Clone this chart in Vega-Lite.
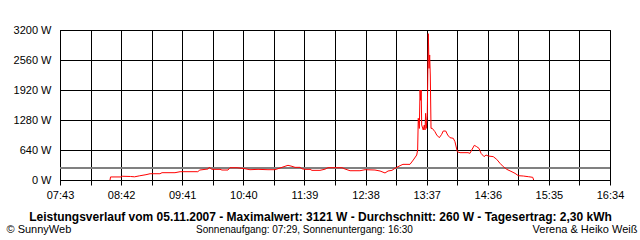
{
  "$schema": "https://vega.github.io/schema/vega-lite/v6.json",
  "width": 550,
  "height": 150,
  "autosize": {"type": "none"},
  "padding": {"left": 60, "top": 30, "right": 30, "bottom": 60},
  "background": "white",
  "view": {"stroke": "black"},
  "config": {
    "font": "Liberation Sans",
    "axis": {"labelFont": "Liberation Sans", "titleFont": "Liberation Sans", "labelColor": "black", "titleColor": "black"}
  },
  "data": {"values": [
    {"minute": 511.3, "watt": 0},
    {"minute": 511.8, "watt": 65},
    {"minute": 522, "watt": 65},
    {"minute": 523, "watt": 80},
    {"minute": 531, "watt": 75},
    {"minute": 535, "watt": 68},
    {"minute": 540, "watt": 90},
    {"minute": 546, "watt": 113},
    {"minute": 550, "watt": 134},
    {"minute": 559.5, "watt": 134},
    {"minute": 561.5, "watt": 156},
    {"minute": 574, "watt": 156},
    {"minute": 579, "watt": 177},
    {"minute": 596, "watt": 177},
    {"minute": 598, "watt": 213},
    {"minute": 606, "watt": 235},
    {"minute": 607, "watt": 270},
    {"minute": 608, "watt": 255},
    {"minute": 609.7, "watt": 228},
    {"minute": 617.5, "watt": 227},
    {"minute": 619.4, "watt": 213},
    {"minute": 625.2, "watt": 213},
    {"minute": 627.1, "watt": 262},
    {"minute": 633.9, "watt": 262},
    {"minute": 641.6, "watt": 240},
    {"minute": 646.4, "watt": 220},
    {"minute": 654.2, "watt": 227},
    {"minute": 663.8, "watt": 220},
    {"minute": 670.6, "watt": 220},
    {"minute": 675.4, "watt": 256},
    {"minute": 680.2, "watt": 292},
    {"minute": 683.1, "watt": 313},
    {"minute": 687, "watt": 292},
    {"minute": 689.9, "watt": 270},
    {"minute": 694.7, "watt": 270},
    {"minute": 696.6, "watt": 240},
    {"minute": 699.5, "watt": 227},
    {"minute": 704.4, "watt": 227},
    {"minute": 706.3, "watt": 206},
    {"minute": 714, "watt": 206},
    {"minute": 718.8, "watt": 230},
    {"minute": 721.7, "watt": 262},
    {"minute": 735.3, "watt": 262},
    {"minute": 738.2, "watt": 234},
    {"minute": 743, "watt": 198},
    {"minute": 752.6, "watt": 198},
    {"minute": 757.5, "watt": 220},
    {"minute": 767.1, "watt": 213},
    {"minute": 772, "watt": 192},
    {"minute": 776.8, "watt": 150},
    {"minute": 779.7, "watt": 192},
    {"minute": 783.5, "watt": 206},
    {"minute": 786.4, "watt": 249},
    {"minute": 791.3, "watt": 306},
    {"minute": 794.1, "watt": 334},
    {"minute": 800.9, "watt": 334},
    {"minute": 804.1, "watt": 427},
    {"minute": 807.4, "watt": 533},
    {"minute": 808.3, "watt": 640},
    {"minute": 808.9, "watt": 1316},
    {"minute": 809.9, "watt": 1100},
    {"minute": 810.6, "watt": 1920},
    {"minute": 811.2, "watt": 1700},
    {"minute": 811.7, "watt": 1920},
    {"minute": 812.2, "watt": 1173},
    {"minute": 813.7, "watt": 1067},
    {"minute": 814.7, "watt": 1173},
    {"minute": 815.4, "watt": 1067},
    {"minute": 816, "watt": 1422},
    {"minute": 816.6, "watt": 1102},
    {"minute": 817.6, "watt": 1387},
    {"minute": 818.6, "watt": 3121},
    {"minute": 819.3, "watt": 2382},
    {"minute": 819.9, "watt": 2667},
    {"minute": 820.5, "watt": 2240},
    {"minute": 821.2, "watt": 1102},
    {"minute": 822.4, "watt": 1102},
    {"minute": 825, "watt": 1031},
    {"minute": 826.7, "watt": 960},
    {"minute": 829.2, "watt": 903},
    {"minute": 831.5, "watt": 974},
    {"minute": 833, "watt": 1045},
    {"minute": 835.4, "watt": 1045},
    {"minute": 837.3, "watt": 960},
    {"minute": 839.5, "watt": 903},
    {"minute": 842.7, "watt": 889},
    {"minute": 844.3, "watt": 818},
    {"minute": 846.6, "watt": 604},
    {"minute": 849.2, "watt": 583},
    {"minute": 856.9, "watt": 583},
    {"minute": 858.8, "watt": 569},
    {"minute": 860.5, "watt": 640},
    {"minute": 863, "watt": 740},
    {"minute": 865.3, "watt": 711},
    {"minute": 867.5, "watt": 676},
    {"minute": 869.5, "watt": 569},
    {"minute": 872.4, "watt": 498},
    {"minute": 874.3, "watt": 533},
    {"minute": 876.5, "watt": 512},
    {"minute": 881.3, "watt": 498},
    {"minute": 884.6, "watt": 441},
    {"minute": 887.8, "watt": 356},
    {"minute": 891, "watt": 284},
    {"minute": 894.3, "watt": 228},
    {"minute": 898.4, "watt": 185},
    {"minute": 902.3, "watt": 142},
    {"minute": 905.5, "watt": 92},
    {"minute": 910.3, "watt": 85},
    {"minute": 915.1, "watt": 71},
    {"minute": 919.4, "watt": 57},
    {"minute": 920.3, "watt": 0}
  ]},
  "resolve": {"axis": {"x": "independent", "y": "independent"}},
  "layer": [
    {
      "mark": {"type": "rule", "color": "#808080", "strokeWidth": 1},
      "encoding": {
        "x": {"datum": 463, "type": "quantitative",
          "scale": {"domain": [463, 994], "nice": false, "zero": false},
          "axis": {"orient": "top", "labels": false, "ticks": false, "domain": false, "grid": false,
            "title": "Sonnenaufgang: 07:29, Sonnenuntergang: 16:30",
            "titleFontSize": 10, "titleFontWeight": "normal", "titleX": 244, "titleY": 199.5,
            "titleAlign": "center", "titleBaseline": "middle"}},
        "x2": {"datum": 994},
        "y": {"datum": 260, "type": "quantitative",
          "scale": {"domain": [0, 3200], "nice": false, "zero": true},
          "axis": {"orient": "right", "labels": false, "ticks": false, "domain": false, "grid": false,
            "title": "Verena & Heiko Weiß", "titleAngle": 0,
            "titleFontSize": 11, "titleFontWeight": "normal", "titleX": 27, "titleY": 199.5,
            "titleAlign": "right", "titleBaseline": "middle"}}
      }
    },
    {
      "mark": {"type": "line", "color": "#ff0000", "strokeWidth": 1, "interpolate": "linear"},
      "encoding": {
        "x": {"field": "minute", "type": "quantitative",
          "scale": {"domain": [463, 994], "nice": false, "zero": false},
          "axis": {
            "values": [463, 492.5, 522, 551.5, 581, 610.5, 640, 669.5, 699, 728.5, 758, 787.5, 817, 846.5, 876, 905.5, 935, 964.5, 994],
            "labelExpr": "(datum.value - 463) % 59 == 0 ? format(floor(datum.value / 60), '02d') + ':' + format(datum.value % 60, '02d') : ''",
            "grid": true, "gridColor": "black", "gridOpacity": 1, "gridWidth": 1,
            "domain": true, "domainColor": "black", "domainWidth": 1,
            "ticks": true, "tickColor": "black", "tickSize": 5, "tickWidth": 1,
            "labelFontSize": 11, "labelPadding": 4, "labelFlush": false, "labelOverlap": false,
            "title": "Leistungsverlauf vom 05.11.2007 - Maximalwert: 3121 W - Durchschnitt: 260 W - Tagesertrag: 2,30 kWh",
            "titleFontSize": 12, "titleFontWeight": "bold", "titleX": 260, "titleY": 36.5,
            "titleAlign": "center", "titleBaseline": "middle"
          }},
        "y": {"field": "watt", "type": "quantitative",
          "scale": {"domain": [0, 3200], "nice": false, "zero": true},
          "axis": {
            "values": [0, 640, 1280, 1920, 2560, 3200],
            "labelExpr": "datum.value + ' W'",
            "grid": true, "gridColor": "black", "gridOpacity": 1, "gridWidth": 1,
            "domain": true, "domainColor": "black",
            "ticks": false, "labelPadding": 9, "labelFontSize": 11,
            "title": "© SunnyWeb", "titleAngle": 0,
            "titleFontSize": 11, "titleFontWeight": "normal", "titleX": -54, "titleY": 199.5,
            "titleAlign": "left", "titleBaseline": "middle"
          }}
      }
    }
  ]
}
